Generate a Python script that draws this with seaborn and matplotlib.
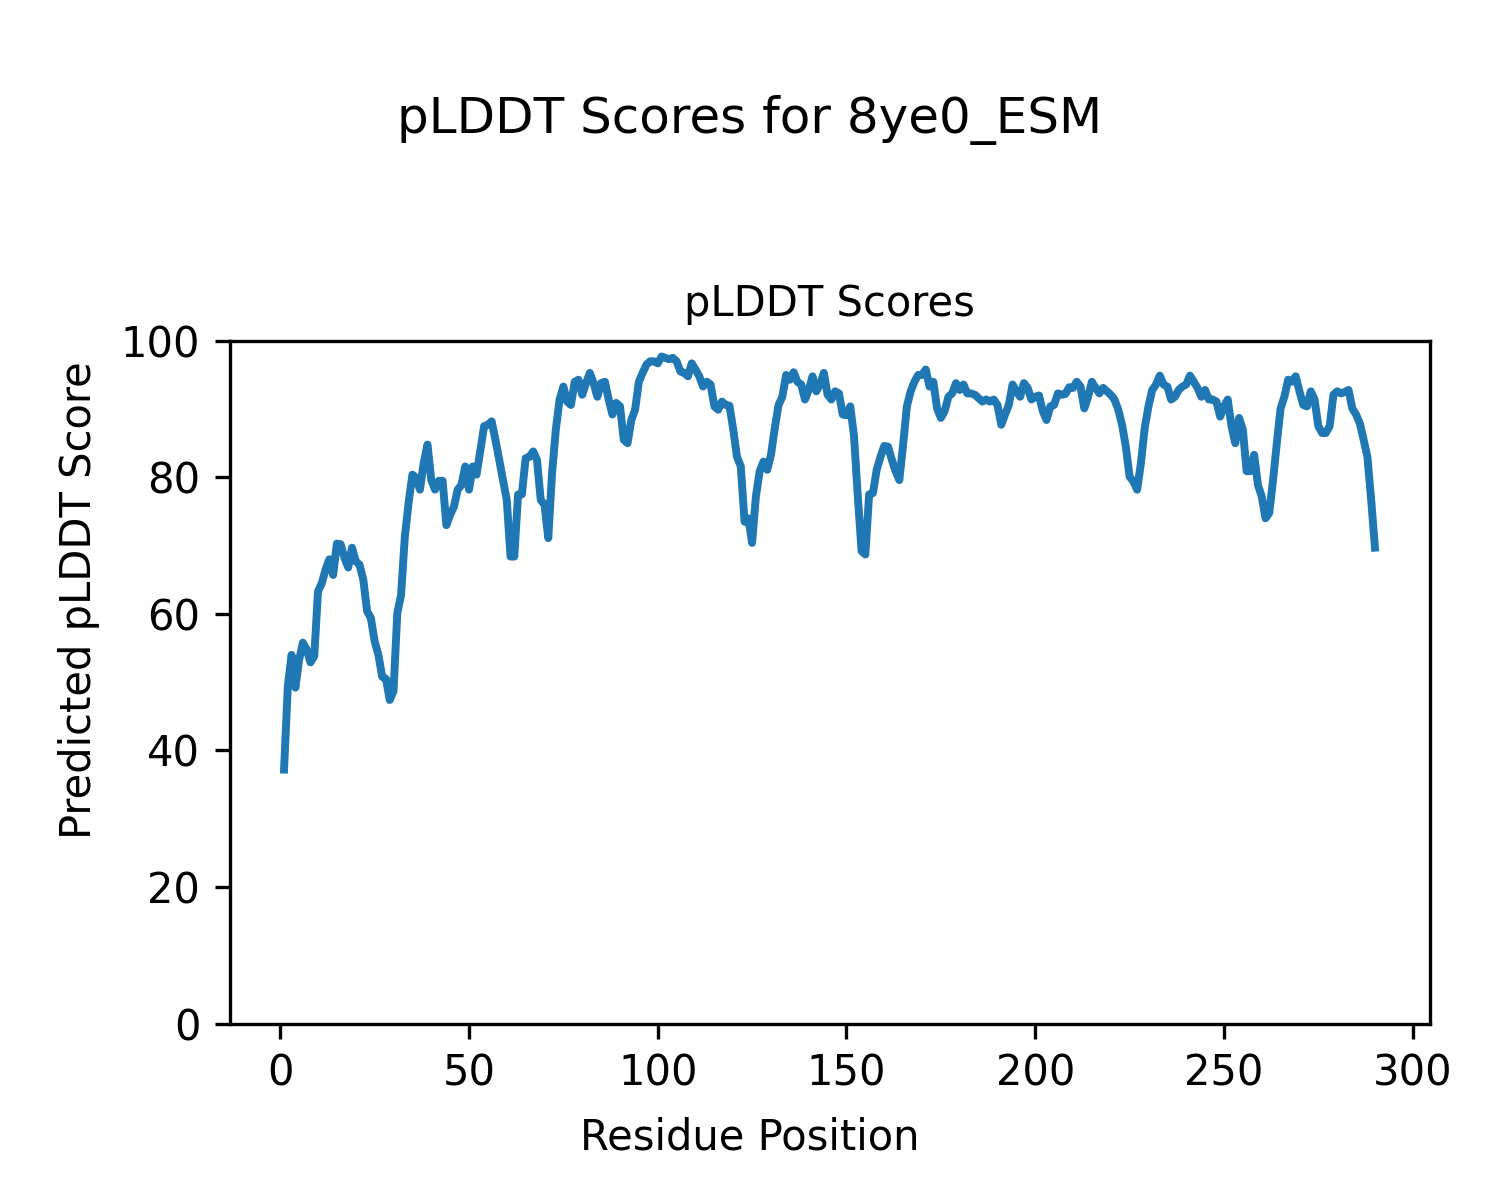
import numpy as np
import pandas as pd
import matplotlib
matplotlib.use("Agg")
import matplotlib.pyplot as plt
import seaborn as sns

# pLDDT per residue (residues 1..290)
plddt_1_50 = [
    37.2, 49.4, 54.0, 49.2, 53.3, 55.8, 54.8, 52.9, 53.8, 63.3,
    64.5, 66.5, 68.0, 65.7, 70.3, 70.2, 68.2, 66.8, 69.7, 67.7,
    67.2, 65.0, 60.4, 59.4, 56.0, 54.0, 50.8, 50.5, 47.4, 48.7,
    60.1, 62.8, 71.3, 76.3, 80.4, 79.9, 78.2, 82.1, 84.8, 79.6,
    78.2, 79.5, 79.5, 73.0, 74.5, 75.7, 78.2, 78.9, 81.6, 78.2,
]
plddt_51_100 = [
    81.6, 80.4, 84.0, 87.5, 87.7, 88.2, 85.5, 82.6, 79.6, 76.7,
    68.4, 68.4, 77.5, 77.5, 82.8, 83.0, 83.8, 82.6, 76.7, 76.0,
    71.1, 80.6, 87.0, 91.4, 93.3, 91.1, 90.6, 94.0, 94.3, 92.1,
    93.8, 95.3, 93.8, 91.8, 93.8, 94.0, 91.4, 89.2, 90.9, 90.4,
    85.5, 85.0, 88.4, 89.9, 94.0, 95.3, 96.5, 97.0, 97.0, 96.7,
]
plddt_101_150 = [
    97.7, 97.5, 97.3, 97.5, 97.0, 95.5, 95.3, 94.8, 96.7, 95.8,
    94.8, 93.3, 94.0, 93.6, 90.4, 89.9, 91.1, 90.6, 90.5, 87.0,
    83.0, 81.6, 73.5, 74.0, 70.4, 77.2, 80.9, 82.3, 81.1, 83.3,
    87.2, 90.6, 91.8, 95.0, 94.3, 95.4, 94.0, 93.6, 91.4, 92.8,
    94.8, 92.6, 93.6, 95.3, 92.1, 91.4, 92.6, 92.3, 89.2, 89.1,
]
plddt_151_200 = [
    90.4, 86.0, 77.2, 69.2, 68.7, 77.5, 77.7, 81.1, 83.0, 84.6,
    84.5, 82.6, 80.9, 79.6, 84.8, 90.4, 92.6, 94.0, 95.0, 95.0,
    95.8, 93.3, 94.0, 90.1, 88.7, 89.7, 91.8, 92.3, 93.8, 92.8,
    93.6, 92.3, 92.3, 92.1, 91.6, 91.1, 91.4, 91.1, 91.4, 90.6,
    87.7, 89.2, 90.6, 93.6, 92.6, 91.8, 93.8, 93.1, 91.4, 91.8,
]
plddt_201_250 = [
    92.0, 89.7, 88.4, 90.4, 90.6, 92.3, 92.1, 92.2, 93.2, 93.1,
    94.0, 93.3, 90.1, 91.8, 94.0, 93.1, 92.3, 93.1, 92.6, 92.1,
    91.4, 89.9, 87.7, 84.5, 80.1, 79.4, 78.2, 82.1, 87.2, 90.4,
    92.8, 93.6, 94.9, 93.6, 93.3, 91.4, 91.8, 92.8, 93.3, 93.6,
    94.9, 94.0, 93.1, 91.8, 92.8, 91.4, 91.4, 91.1, 88.9, 90.4,
]
plddt_251_290 = [
    91.4, 87.5, 85.0, 88.7, 87.0, 80.9, 80.9, 83.3, 78.9, 77.2,
    74.0, 74.8, 79.6, 85.0, 90.1, 91.8, 94.3, 94.0, 94.8, 92.6,
    90.6, 90.4, 92.6, 91.4, 87.5, 86.5, 86.5, 87.5, 92.1, 92.6,
    92.3, 92.5, 92.8, 90.1, 89.2, 87.9, 85.5, 83.0, 76.7, 69.7,
]

scores = (plddt_1_50 + plddt_51_100 + plddt_101_150
          + plddt_151_200 + plddt_201_250 + plddt_251_290)
residues = list(range(1, len(scores) + 1))

df = pd.DataFrame({"residue": residues, "pLDDT": scores})

fig = plt.figure(figsize=(5, 4), dpi=300)
ax = fig.add_axes([0.153, 0.147, 0.8, 0.569])

sns.lineplot(data=df, x="residue", y="pLDDT", color="#1f77b4",
             linewidth=1.9, ax=ax)

ax.set_ylim(0, 100)
ax.set_title("pLDDT Scores", fontsize=10)
ax.set_xlabel("")
ax.set_ylabel("")

# figure-level labels, centred on the figure rather than the axes
fig.supxlabel("Residue Position", fontsize=10, y=0.0525, va="center")
fig.supylabel("Predicted pLDDT Score", fontsize=10, x=0.0527, ha="center")
fig.suptitle("pLDDT Scores for 8ye0_ESM", fontsize=12, y=0.9, va="center")

fig.savefig("out.png", dpi=300)
